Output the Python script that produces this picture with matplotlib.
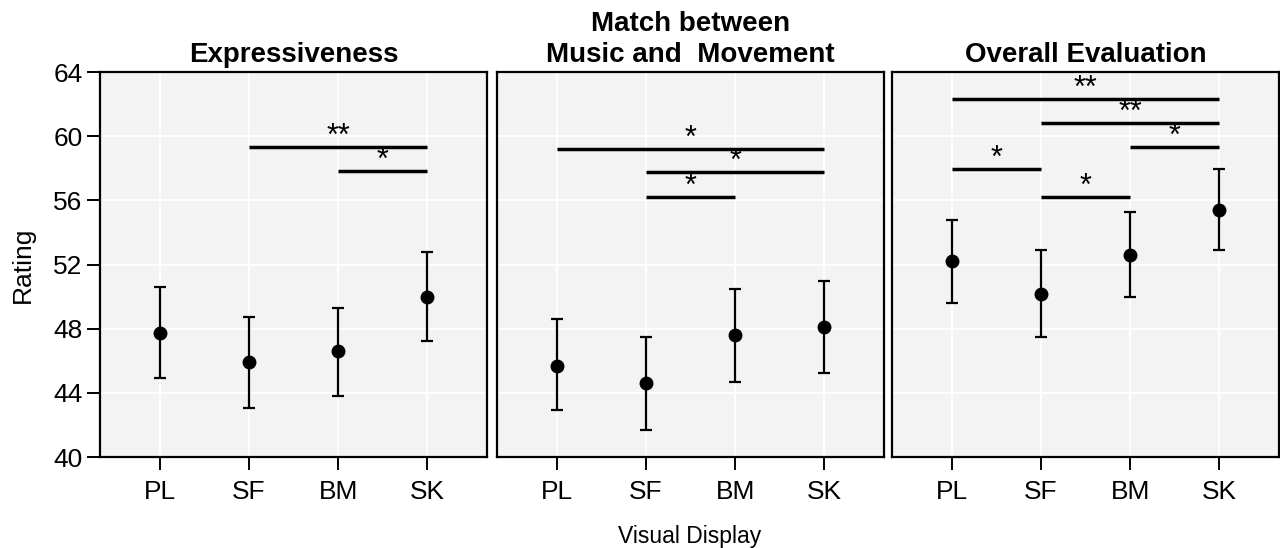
import matplotlib
matplotlib.use('Agg')
import matplotlib.pyplot as plt
from matplotlib.transforms import offset_copy

plt.rcParams['font.family'] = ['Liberation Sans', 'DejaVu Sans']

# data
displays = ['PL', 'SF', 'BM', 'SK']
titles = ['Expressiveness', 'Match between\nMusic and  Movement', 'Overall Evaluation']

expr_mean = [47.7, 45.9, 46.6, 50.0]
expr_lo = [44.9, 43.05, 43.8, 47.2]
expr_hi = [50.6, 48.7, 49.3, 52.8]

match_mean = [45.7, 44.6, 47.6, 48.1]
match_lo = [42.9, 41.7, 44.7, 45.25]
match_hi = [48.6, 47.5, 50.5, 51.0]

overall_mean = [52.2, 50.15, 52.6, 55.4]
overall_lo = [49.6, 47.5, 49.95, 52.9]
overall_hi = [54.8, 52.9, 55.3, 57.95]

# significance brackets: (from, to, height, label)
expr_sig = [(1, 3, 59.3, '**'), (2, 3, 57.8, '*')]
match_sig = [(0, 3, 59.2, '*'), (1, 3, 57.75, '*'), (1, 2, 56.2, '*')]
overall_sig = [(0, 3, 62.3, '**'), (1, 3, 60.8, '**'), (2, 3, 59.3, '*'),
               (0, 1, 57.95, '*'), (1, 2, 56.2, '*')]

panels = [
    (expr_mean, expr_lo, expr_hi, expr_sig),
    (match_mean, match_lo, match_hi, match_sig),
    (overall_mean, overall_lo, overall_hi, overall_sig),
]

fig = plt.figure(figsize=(12.8, 5.48), dpi=100)
lefts = [100, 497, 892]
W, H = 1280, 548

x = [1, 2, 3, 4]
for i, (m, lo, hi, sig) in enumerate(panels):
    ax = fig.add_axes([lefts[i] / W, 1 - 457 / H, 387 / W, 385 / H])
    ax.set_facecolor('#f3f3f3')
    ax.set_xlim(0.33, 4.67)
    ax.set_ylim(40, 64)
    ax.set_yticks([40, 44, 48, 52, 56, 60, 64])
    ax.set_xticks(x)
    ax.set_xticklabels(displays)
    ax.grid(True, color='white', lw=1.4)
    ax.set_axisbelow(True)
    for s in ax.spines.values():
        s.set_linewidth(1.6)
    ax.tick_params(direction='out', length=9.5, width=1.4, labelsize=19, pad=3)
    ax.tick_params(axis='x', pad=7)
    if i > 0:
        ax.tick_params(axis='y', left=False, labelleft=False)
    else:
        ax.set_ylabel('Rating', fontsize=19, labelpad=13)

    yerr = [[m[k] - lo[k] for k in range(4)], [hi[k] - m[k] for k in range(4)]]
    ax.errorbar(x, m, yerr=yerr, fmt='o', color='black', ms=9,
                elinewidth=1.6, capsize=4, capthick=1.6)

    # stars sit a few pixels above each bracket
    star_tr = offset_copy(ax.transData, fig=fig, y=1.5, units='points')
    for a, b, h, lab in sig:
        ax.plot([x[a], x[b]], [h, h], color='black', lw=2.5, solid_capstyle='butt')
        ax.text((x[a] + x[b]) / 2, h, lab, ha='center', va='baseline',
                fontsize=22, transform=star_tr)

    ax.set_title(titles[i], fontsize=20, fontweight='bold', pad=7, linespacing=1.25)

fig.text(690 / W, 1 - 537 / H, 'Visual Display', ha='center', va='center', fontsize=16.5)

plt.savefig('out.png', dpi=100)
plt.close()
